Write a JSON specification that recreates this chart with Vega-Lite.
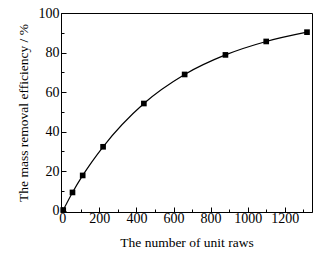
{
  "$schema": "https://vega.github.io/schema/vega-lite/v6.json",
  "autosize": "none",
  "width": 251,
  "height": 199,
  "padding": {"left": 61, "top": 13, "right": 20, "bottom": 41},
  "background": "white",
  "config": {
    "view": {"stroke": "black", "strokeWidth": 1},
    "font": "Liberation Serif",
    "axis": {
      "domainColor": "black",
      "tickColor": "black",
      "labelColor": "black",
      "titleColor": "black",
      "labelFont": "Liberation Serif",
      "titleFont": "Liberation Serif",
      "labelFontSize": 14,
      "titleFontSize": 13.5,
      "titleFontWeight": "normal",
      "grid": false
    }
  },
  "data": {
    "values": [
      {"units": 5, "eff": 0.3},
      {"units": 55, "eff": 9.2},
      {"units": 110, "eff": 17.8},
      {"units": 220, "eff": 32.3},
      {"units": 440, "eff": 54.2},
      {"units": 660, "eff": 68.9},
      {"units": 880, "eff": 78.8},
      {"units": 1100, "eff": 85.6},
      {"units": 1320, "eff": 90.3}
    ]
  },
  "encoding": {
    "x": {
      "field": "units",
      "type": "quantitative",
      "scale": {"domain": [-7, 1347], "nice": false, "zero": false},
      "axis": {
        "title": "The number of unit raws",
        "format": "d",
        "values": [0, 100, 200, 300, 400, 500, 600, 700, 800, 900, 1000, 1100, 1200, 1300],
        "labelExpr": "datum.value % 200 === 0 ? datum.label : ''",
        "tickSize": {"condition": {"test": "datum.value % 200 === 0", "value": -5}, "value": -3},
        "labelPadding": 4,
        "titlePadding": 10
      }
    },
    "y": {
      "field": "eff",
      "type": "quantitative",
      "scale": {"domain": [-0.7, 100], "nice": false, "zero": false},
      "axis": {
        "title": "The mass removal efficiency / %",
        "values": [0, 10, 20, 30, 40, 50, 60, 70, 80, 90, 100],
        "labelExpr": "datum.value % 20 === 0 ? datum.label : ''",
        "tickSize": {"condition": {"test": "datum.value % 20 === 0", "value": -5}, "value": -3},
        "labelPadding": 7,
        "titlePadding": 8
      }
    }
  },
  "layer": [
    {"mark": {"type": "line", "color": "black", "strokeWidth": 1.2, "interpolate": "monotone"}},
    {"mark": {"type": "square", "color": "black", "filled": true, "opacity": 1, "size": 32}}
  ]
}
